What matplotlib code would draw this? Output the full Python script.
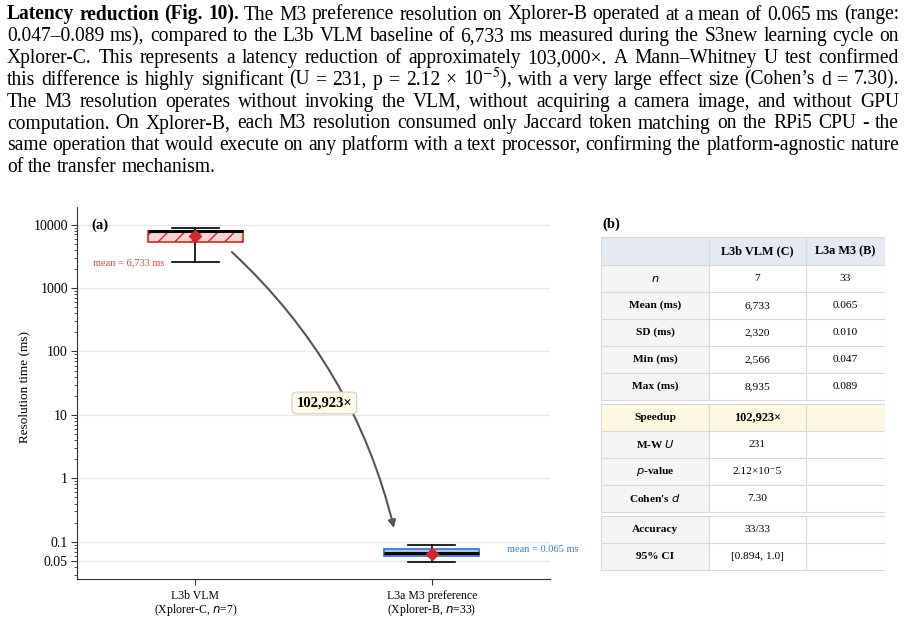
import matplotlib
matplotlib.use('Agg')
import matplotlib.pyplot as plt
from matplotlib.transforms import IdentityTransform
from matplotlib.patches import Rectangle
from matplotlib.ticker import NullFormatter, LogLocator

plt.rcParams['font.family'] = ['Liberation Serif', 'DejaVu Serif']
plt.rcParams['mathtext.fontset'] = 'dejavusans'

# ---------------- data ----------------
groups = ['L3b VLM', 'L3a M3 preference']
platforms = ['Xplorer-C', 'Xplorer-B']
n_runs = [7, 33]
mean_ms = [6733, 0.065]
q1_ms = [5400, 0.060]
median_ms = [7990, 0.067]
q3_ms = [8050, 0.0765]
min_ms = [2566, 0.047]
max_ms = [8935, 0.089]
mean_labels = ['mean = 6,733 ms', 'mean = 0.065 ms']
speedup_label = '102,923×'

ytick_vals = [0.05, 0.1, 1, 10, 100, 1000, 10000]
ytick_text = ['0.05', '0.1', '1', '10', '100', '1000', '10000']

table_header = ['', 'L3b VLM (C)', 'L3a M3 (B)']
table_blocks = [
    [('$n$', '7', '33'),
     ('Mean (ms)', '6,733', '0.065'),
     ('SD (ms)', '2,320', '0.010'),
     ('Min (ms)', '2,566', '0.047'),
     ('Max (ms)', '8,935', '0.089')],
    [('Speedup', '102,923×', ''),
     ('M-W $U$', '231', ''),
     ('$p$-value', '2.12×10⁻5', ''),
     ("Cohen's $d$", '7.30', '')],
    [('Accuracy', '33/33', ''),
     ('95% CI', '[0.894, 1.0]', '')],
]

para_lead = 'Latency reduction (Fig. 10).'
para_lines = [
    'The M3 preference resolution on Xplorer-B operated at a mean of 0.065 ms (range:',
    '0.047–0.089 ms), compared to the L3b VLM baseline of 6,733 ms measured during the S3new learning cycle on',
    'Xplorer-C. This represents a latency reduction of approximately 103,000×. A Mann–Whitney U test confirmed',
    'this difference is highly significant (U = 231, p = 2.12 × 10$^{-5}$), with a very large effect size (Cohen’s d = 7.30).',
    'The M3 resolution operates without invoking the VLM, without acquiring a camera image, and without GPU',
    'computation. On Xplorer-B, each M3 resolution consumed only Jaccard token matching on the RPi5 CPU - the',
    'same operation that would execute on any platform with a text processor, confirming the platform-agnostic nature',
    'of the transfer mechanism.',
]

W, H = 909, 621
fig = plt.figure(figsize=(W / 100, H / 100), dpi=100)
renderer = fig.canvas.get_renderer()

# ---------------- paragraph (justified) ----------------
X0, X1 = 7, 899
line_words = []
for i, line in enumerate(para_lines):
    words = [(w, 'normal') for w in line.split(' ')]
    if i == 0:
        words = [(w, 'bold') for w in para_lead.split(' ')] + words
    line_words.append(words)

def make_words(words, fs, y=0):
    objs = [fig.text(0, H - y, w, fontsize=fs, fontweight=wt, va='baseline',
                     transform=IdentityTransform(), math_fontfamily='stix') for w, wt in words]
    widths = [o.get_window_extent(renderer).width for o in objs]
    return objs, widths

# pick the font size so the densest line fits with normal word spacing
fs0 = 12.5
natural = []
for words in line_words[:-1]:
    objs, widths = make_words(words, fs0)
    natural.append(sum(widths) + (len(words) - 1) * fs0 * 0.25 * 100 / 72)
    for o in objs:
        o.remove()
FS = fs0 * (X1 - X0) / max(natural)

for i, words in enumerate(line_words):
    y = 19.5 + i * 21.8
    objs, widths = make_words(words, FS, y)
    if i == len(line_words) - 1:
        gap = FS * 0.25 * 100 / 72
    else:
        gap = (X1 - X0 - sum(widths)) / (len(objs) - 1)
    x = X0
    for o, w in zip(objs, widths):
        o.set_x(x)
        x += w + gap

# ---------------- panel (a) ----------------
ax = fig.add_axes([77 / W, (H - 579) / H, 473 / W, 372 / H])
stats = []
for i in range(2):
    stats.append(dict(med=median_ms[i], q1=q1_ms[i], q3=q3_ms[i], whislo=min_ms[i],
                      whishi=max_ms[i], mean=mean_ms[i], fliers=[]))
bp = ax.bxp(stats, positions=[0, 1], widths=0.4, patch_artist=True, showmeans=True,
            capwidths=0.2,
            meanprops=dict(marker='D', markerfacecolor='#d62728', markeredgecolor='#d62728', markersize=6),
            medianprops=dict(color='black', lw=2.2),
            whiskerprops=dict(color='black', lw=1.2),
            capprops=dict(color='black', lw=1.2))
bp['boxes'][0].set(facecolor='#f9d3d3', edgecolor='#d62728', hatch='//', lw=1.2)
bp['boxes'][1].set(facecolor='#a9cdef', edgecolor='#2f72c4', lw=1.2)
for m in bp['means']:
    m.set_zorder(5)

ax.set_yscale('log')
ax.set_ylim(0.0258, 19000)
ax.set_xlim(-0.5, 1.5)
ax.set_yticks(ytick_vals, labels=ytick_text)
ax.yaxis.set_minor_locator(LogLocator(base=10, subs=range(2, 10), numticks=20))
ax.yaxis.set_minor_formatter(NullFormatter())
ax.set_xticks([0, 1], labels=[f'{g}\n({p}, $n$={n})' for g, p, n in zip(groups, platforms, n_runs)])
for lab in ax.get_xticklabels():
    lab.set_linespacing(0.95)
ax.tick_params(axis='x', labelsize=8.5, length=4, color='#333333', pad=4)
ax.tick_params(axis='y', which='major', labelsize=10, length=4, color='#333333', pad=2.5)
ax.tick_params(axis='y', which='minor', length=2, color='#333333')
ax.yaxis.grid(True, which='major', color='#e8e8e8', lw=1)
ax.set_axisbelow(True)
for s in ['top', 'right']:
    ax.spines[s].set_visible(False)
for s in ['left', 'bottom']:
    ax.spines[s].set_color('#333333')
ax.set_ylabel('Resolution time (ms)', fontsize=9.5)
ax.yaxis.set_label_coords(-0.098, 0.515)

ax.text(0.03, 0.95, '(a)', transform=ax.transAxes, fontsize=10.5, fontweight='bold', va='center')
ax.text(-0.13, min_ms[0] * 0.97, mean_labels[0], color='#d64545', fontsize=7.5, ha='right', va='center')
ax.text(1.32, q3_ms[1], mean_labels[1], color='#3b7dd8', fontsize=7.5, ha='left', va='center',
        clip_on=False)

ax.annotate('', xy=(0.84, 0.165), xytext=(0.155, 3700),
            arrowprops=dict(arrowstyle='-|>', color='#555555', lw=1.5, mutation_scale=11,
                            connectionstyle='arc3,rad=-0.15', shrinkA=0, shrinkB=0))
ax.text(0.546, 15.4, speedup_label, ha='center', va='center', fontweight='bold', fontsize=10.5,
        bbox=dict(boxstyle='round,pad=0.3', fc='#fffbe6', ec='#cccccc', lw=0.8), zorder=6)

# ---------------- panel (b) table ----------------
fig.text(602 / W, (H - 224) / H, '(b)', fontsize=10.5, fontweight='bold', va='center')
axt = fig.add_axes([601 / W, (H - 572) / H, 284 / W, 335 / H])
axt.set_xlim(0, 284)
axt.set_ylim(335, 0)
axt.axis('off')
col_edges = [0, 108, 205, 284]
header_h, row_h, gap = 28, 27, 4
line_c = '#d9d9d9'

def cell(x0, x1, y0, h, fc, txt, bold=False, fs=8.2):
    axt.add_patch(Rectangle((x0, y0), x1 - x0, h, fc=fc, ec=line_c, lw=0.8))
    if txt:
        axt.text((x0 + x1) / 2, y0 + h / 2, txt, ha='center', va='center', fontsize=fs,
                 fontweight='bold' if bold else 'normal')

y = 0
for c in range(3):
    cell(col_edges[c], col_edges[c + 1], y, header_h, '#e5e9f2', table_header[c], bold=True, fs=8.8)
y += header_h
for bi, block in enumerate(table_blocks):
    if bi > 0:
        y += gap
    for row in block:
        hl = row[0] == 'Speedup'
        for c in range(3):
            if hl:
                fc = '#fdf8e2'
            else:
                fc = '#f5f5f5' if c == 0 else 'white'
            cell(col_edges[c], col_edges[c + 1], y, row_h, fc, row[c],
                 bold=(c == 0 or (hl and c == 1)), fs=8.8 if (hl and c == 1) else 8.2)
        y += row_h

fig.savefig('out.png', dpi=100)
